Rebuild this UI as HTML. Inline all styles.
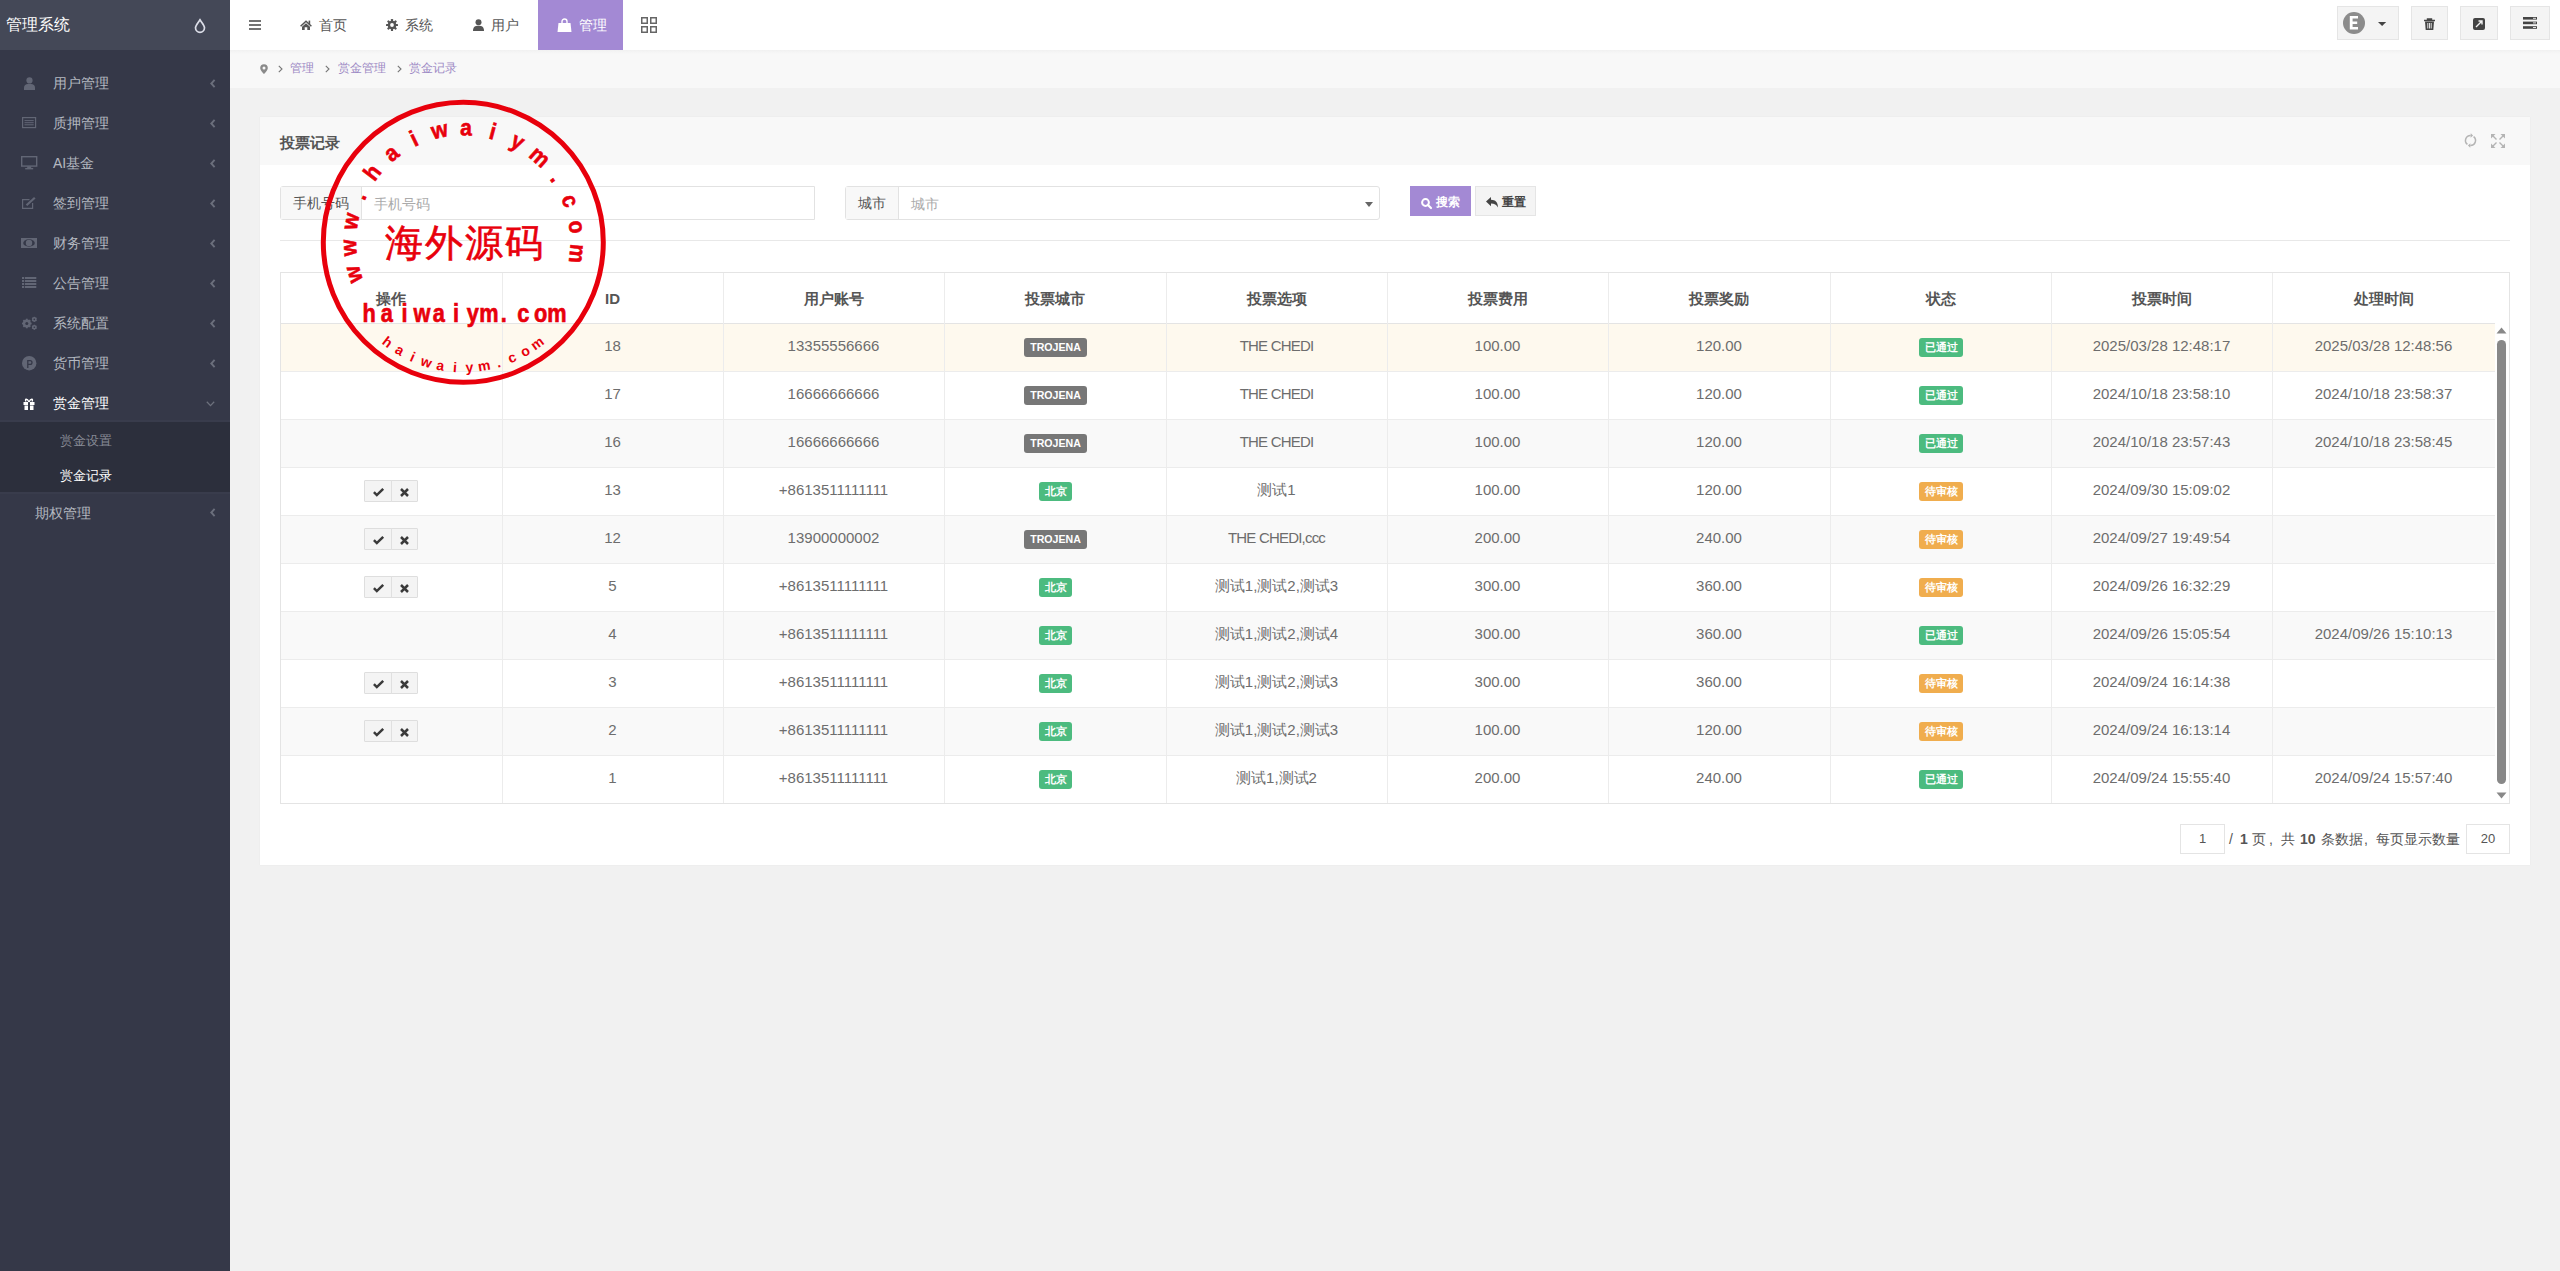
<!DOCTYPE html><html><head><meta charset="utf-8"><style>
*{box-sizing:border-box;margin:0;padding:0}
html,body{width:2560px;height:1271px;overflow:hidden}
body{background:#f1f1f1;font-family:"Liberation Sans",sans-serif;color:#666;position:relative}
.a{position:absolute;white-space:nowrap}
svg{position:absolute;overflow:visible}
</style></head><body>
<div class="a" style="left:0px;top:0px;width:230px;height:1271px;background:#353848;"></div>
<div class="a" style="left:0px;top:0px;width:230px;height:50px;background:#444857;"></div>
<div class="a" style="left:6px;top:15px;font-size:16px;line-height:20px;color:#fff;font-weight:normal;">管理系统</div>
<svg style="left:194px;top:17px" width="12" height="16" viewBox="0 0 12 16"><path d="M6 2.8 C4 6 1.5 8.5 1.5 10.8 A4.5 4.5 0 0 0 10.5 10.8 C10.5 8.5 8 6 6 2.8 Z" fill="none" stroke="#dcdee8" stroke-width="1.7"/></svg>
<svg style="left:23.5px;top:76.5px" width="11" height="13" viewBox="0 0 11 13"><circle cx="5.5" cy="3.4" r="3.1" fill="#626675"/><path d="M0 13 V10.6 C0 8.3 1.8 7 3.8 7 H7.2 C9.2 7 11 8.3 11 10.6 V13 Z" fill="#626675"/></svg>
<div class="a" style="left:53px;top:75px;font-size:14px;line-height:17px;color:#b4b8c0;font-weight:normal;">用户管理</div>
<svg style="left:210px;top:79px" width="6" height="9" viewBox="0 0 6 9"><path d="M4.6 0.9 L1.3 4.5 L4.6 8.1" fill="none" stroke="#6b6f7c" stroke-width="1.9"/></svg>
<svg style="left:21.8px;top:116.6px" width="14.2" height="11.2" viewBox="0 0 14.2 11.2"><rect x="0.6" y="0.6" width="13" height="10" fill="none" stroke="#626675" stroke-width="1.2"/><path d="M2.5 3.6 H11.7 M2.5 5.7 H11.7 M2.5 7.8 H11.7" stroke="#626675" stroke-width="1"/></svg>
<div class="a" style="left:53px;top:115px;font-size:14px;line-height:17px;color:#b4b8c0;font-weight:normal;">质押管理</div>
<svg style="left:210px;top:119px" width="6" height="9" viewBox="0 0 6 9"><path d="M4.6 0.9 L1.3 4.5 L4.6 8.1" fill="none" stroke="#6b6f7c" stroke-width="1.9"/></svg>
<svg style="left:21px;top:155.6px" width="16.4" height="13.4" viewBox="0 0 16.4 13.4"><rect x="0.7" y="0.7" width="15" height="9.4" fill="none" stroke="#626675" stroke-width="1.4"/><rect x="6.2" y="10.4" width="4" height="1.6" fill="#626675"/><rect x="4.2" y="12" width="8" height="1.4" fill="#626675"/></svg>
<div class="a" style="left:53px;top:155px;font-size:14px;line-height:17px;color:#b4b8c0;font-weight:normal;">AI基金</div>
<svg style="left:210px;top:159px" width="6" height="9" viewBox="0 0 6 9"><path d="M4.6 0.9 L1.3 4.5 L4.6 8.1" fill="none" stroke="#6b6f7c" stroke-width="1.9"/></svg>
<svg style="left:21.8px;top:196.5px" width="14" height="12" viewBox="0 0 14 12"><path d="M7.5 2.6 H0.6 V11.4 H10.6 V6" fill="none" stroke="#626675" stroke-width="1.2"/><path d="M4.5 8.2 L12.8 0.8" stroke="#626675" stroke-width="2.2"/></svg>
<div class="a" style="left:53px;top:195px;font-size:14px;line-height:17px;color:#b4b8c0;font-weight:normal;">签到管理</div>
<svg style="left:210px;top:199px" width="6" height="9" viewBox="0 0 6 9"><path d="M4.6 0.9 L1.3 4.5 L4.6 8.1" fill="none" stroke="#6b6f7c" stroke-width="1.9"/></svg>
<svg style="left:21px;top:238px" width="16" height="10" viewBox="0 0 16 10"><rect x="0" y="0" width="16" height="10" fill="#626675"/><ellipse cx="8" cy="5" rx="5.8" ry="3.7" fill="#353848"/><circle cx="8" cy="5" r="3.2" fill="#626675"/></svg>
<div class="a" style="left:53px;top:235px;font-size:14px;line-height:17px;color:#b4b8c0;font-weight:normal;">财务管理</div>
<svg style="left:210px;top:239px" width="6" height="9" viewBox="0 0 6 9"><path d="M4.6 0.9 L1.3 4.5 L4.6 8.1" fill="none" stroke="#6b6f7c" stroke-width="1.9"/></svg>
<svg style="left:21.8px;top:277px" width="14.3" height="11" viewBox="0 0 14.3 11"><rect x="0" y="0" width="2.2" height="2" fill="#626675"/><rect x="3" y="0" width="11.3" height="2" fill="#626675"/><rect x="0" y="3" width="2.2" height="2" fill="#626675"/><rect x="3" y="3" width="11.3" height="2" fill="#626675"/><rect x="0" y="6" width="2.2" height="2" fill="#626675"/><rect x="3" y="6" width="11.3" height="2" fill="#626675"/><rect x="0" y="9" width="2.2" height="2" fill="#626675"/><rect x="3" y="9" width="11.3" height="2" fill="#626675"/></svg>
<div class="a" style="left:53px;top:275px;font-size:14px;line-height:17px;color:#b4b8c0;font-weight:normal;">公告管理</div>
<svg style="left:210px;top:279px" width="6" height="9" viewBox="0 0 6 9"><path d="M4.6 0.9 L1.3 4.5 L4.6 8.1" fill="none" stroke="#6b6f7c" stroke-width="1.9"/></svg>
<svg style="left:20.5px;top:315.5px" width="17" height="14.5" viewBox="0 0 17 14.5"><rect x="4.90" y="2.70" width="1.8" height="2.4" fill="#626675" transform="rotate(0.0 5.8 7.5)"/><rect x="4.90" y="2.70" width="1.8" height="2.4" fill="#626675" transform="rotate(45.0 5.8 7.5)"/><rect x="4.90" y="2.70" width="1.8" height="2.4" fill="#626675" transform="rotate(90.0 5.8 7.5)"/><rect x="4.90" y="2.70" width="1.8" height="2.4" fill="#626675" transform="rotate(135.0 5.8 7.5)"/><rect x="4.90" y="2.70" width="1.8" height="2.4" fill="#626675" transform="rotate(180.0 5.8 7.5)"/><rect x="4.90" y="2.70" width="1.8" height="2.4" fill="#626675" transform="rotate(225.0 5.8 7.5)"/><rect x="4.90" y="2.70" width="1.8" height="2.4" fill="#626675" transform="rotate(270.0 5.8 7.5)"/><rect x="4.90" y="2.70" width="1.8" height="2.4" fill="#626675" transform="rotate(315.0 5.8 7.5)"/><circle cx="5.8" cy="7.5" r="4.0" fill="#626675"/><circle cx="5.8" cy="7.5" r="1.5" fill="#353848"/><rect x="12.70" y="0.80" width="1.2" height="1.9" fill="#626675" transform="rotate(0.0 13.3 3.4)"/><rect x="12.70" y="0.80" width="1.2" height="1.9" fill="#626675" transform="rotate(60.0 13.3 3.4)"/><rect x="12.70" y="0.80" width="1.2" height="1.9" fill="#626675" transform="rotate(120.0 13.3 3.4)"/><rect x="12.70" y="0.80" width="1.2" height="1.9" fill="#626675" transform="rotate(180.0 13.3 3.4)"/><rect x="12.70" y="0.80" width="1.2" height="1.9" fill="#626675" transform="rotate(240.0 13.3 3.4)"/><rect x="12.70" y="0.80" width="1.2" height="1.9" fill="#626675" transform="rotate(300.0 13.3 3.4)"/><circle cx="13.3" cy="3.4" r="2.3" fill="#626675"/><circle cx="13.3" cy="3.4" r="0.8" fill="#353848"/><rect x="12.70" y="8.70" width="1.2" height="1.9" fill="#626675" transform="rotate(0.0 13.3 11.3)"/><rect x="12.70" y="8.70" width="1.2" height="1.9" fill="#626675" transform="rotate(60.0 13.3 11.3)"/><rect x="12.70" y="8.70" width="1.2" height="1.9" fill="#626675" transform="rotate(120.0 13.3 11.3)"/><rect x="12.70" y="8.70" width="1.2" height="1.9" fill="#626675" transform="rotate(180.0 13.3 11.3)"/><rect x="12.70" y="8.70" width="1.2" height="1.9" fill="#626675" transform="rotate(240.0 13.3 11.3)"/><rect x="12.70" y="8.70" width="1.2" height="1.9" fill="#626675" transform="rotate(300.0 13.3 11.3)"/><circle cx="13.3" cy="11.3" r="2.3" fill="#626675"/><circle cx="13.3" cy="11.3" r="0.8" fill="#353848"/></svg>
<div class="a" style="left:53px;top:315px;font-size:14px;line-height:17px;color:#b4b8c0;font-weight:normal;">系统配置</div>
<svg style="left:210px;top:319px" width="6" height="9" viewBox="0 0 6 9"><path d="M4.6 0.9 L1.3 4.5 L4.6 8.1" fill="none" stroke="#6b6f7c" stroke-width="1.9"/></svg>
<svg style="left:21.8px;top:355.7px" width="14.4" height="14.4" viewBox="0 0 14.4 14.4"><circle cx="7.2" cy="7.2" r="7.2" fill="#626675"/><path d="M5.8 12 V4.6 H8.1 A1.9 1.9 0 0 1 8.1 8.4 H5.8" fill="none" stroke="#353848" stroke-width="1.3"/></svg>
<div class="a" style="left:53px;top:355px;font-size:14px;line-height:17px;color:#b4b8c0;font-weight:normal;">货币管理</div>
<svg style="left:210px;top:359px" width="6" height="9" viewBox="0 0 6 9"><path d="M4.6 0.9 L1.3 4.5 L4.6 8.1" fill="none" stroke="#6b6f7c" stroke-width="1.9"/></svg>
<svg style="left:23px;top:398px" width="12" height="12" viewBox="0 0 12 12"><rect x="0.5" y="4" width="11" height="3" fill="#fff"/><rect x="1.5" y="7.5" width="9" height="4.5" fill="#fff"/><rect x="5" y="4" width="2" height="8" fill="#363a49"/><path d="M6 4 C4 0 1.5 1 3 3.5 M6 4 C8 0 10.5 1 9 3.5" fill="none" stroke="#fff" stroke-width="1.4"/></svg>
<div class="a" style="left:53px;top:395px;font-size:14px;line-height:17px;color:#fff;font-weight:normal;">赏金管理</div>
<svg style="left:206px;top:401px" width="9" height="6" viewBox="0 0 9 6"><path d="M0.8 0.8 L4.5 4.6 L8.2 0.8" fill="none" stroke="#6d717d" stroke-width="1.3"/></svg>
<div class="a" style="left:0px;top:420px;width:230px;height:2px;background:#393c4c;"></div>
<div class="a" style="left:0px;top:422px;width:230px;height:70px;background:#2c2f3c;"></div>
<div class="a" style="left:0px;top:492px;width:230px;height:2px;background:#393c4c;"></div>
<div class="a" style="left:60px;top:432px;font-size:13px;line-height:17px;color:#878a95;font-weight:normal;">赏金设置</div>
<div class="a" style="left:60px;top:467px;font-size:13px;line-height:17px;color:#fff;font-weight:normal;">赏金记录</div>
<div class="a" style="left:35px;top:505px;font-size:14px;line-height:17px;color:#b4b8c0;font-weight:normal;">期权管理</div>
<svg style="left:209.5px;top:508px" width="6" height="9" viewBox="0 0 6 9"><path d="M4.6 0.9 L1.3 4.5 L4.6 8.1" fill="none" stroke="#6b6f7c" stroke-width="1.9"/></svg>
<div class="a" style="left:230px;top:0px;width:2330px;height:50px;background:#fff;"></div>
<svg style="left:249px;top:20px" width="12" height="10" viewBox="0 0 12 10"><path d="M0 1h12M0 5h12M0 9h12" stroke="#444" stroke-width="1.6"/></svg>
<svg style="left:299.5px;top:20px" width="12" height="10" viewBox="0 0 12 10"><path d="M0.6 6.2 L6 1.2 L11.4 6.2" fill="none" stroke="#555" stroke-width="1.5"/><rect x="8.6" y="0.6" width="1.6" height="3.6" fill="#555"/><path d="M2 6.8 L6 3.2 L10 6.8 V10 H7.3 V7.3 H4.7 V10 H2 Z" fill="#555"/></svg>
<div class="a" style="left:319px;top:17px;font-size:14px;line-height:17px;color:#555;font-weight:normal;">首页</div>
<svg style="left:386px;top:19px" width="12" height="12" viewBox="0 0 12 12"><rect x="4.9" y="0" width="2.2" height="3" rx="0.6" fill="#555" transform="rotate(0 6 6)"/><rect x="4.9" y="0" width="2.2" height="3" rx="0.6" fill="#555" transform="rotate(45 6 6)"/><rect x="4.9" y="0" width="2.2" height="3" rx="0.6" fill="#555" transform="rotate(90 6 6)"/><rect x="4.9" y="0" width="2.2" height="3" rx="0.6" fill="#555" transform="rotate(135 6 6)"/><rect x="4.9" y="0" width="2.2" height="3" rx="0.6" fill="#555" transform="rotate(180 6 6)"/><rect x="4.9" y="0" width="2.2" height="3" rx="0.6" fill="#555" transform="rotate(225 6 6)"/><rect x="4.9" y="0" width="2.2" height="3" rx="0.6" fill="#555" transform="rotate(270 6 6)"/><rect x="4.9" y="0" width="2.2" height="3" rx="0.6" fill="#555" transform="rotate(315 6 6)"/><circle cx="6" cy="6" r="4.3" fill="#555"/><circle cx="6" cy="6" r="1.9" fill="#fff"/></svg>
<div class="a" style="left:405px;top:17px;font-size:14px;line-height:17px;color:#555;font-weight:normal;">系统</div>
<svg style="left:473px;top:19px" width="11" height="12" viewBox="0 0 11 12"><circle cx="5.5" cy="3.2" r="3" fill="#555"/><path d="M0 12 C0 8 2 6.8 5.5 6.8 C9 6.8 11 8 11 12 Z" fill="#555"/></svg>
<div class="a" style="left:491px;top:17px;font-size:14px;line-height:17px;color:#555;font-weight:normal;">用户</div>
<div class="a" style="left:538px;top:0px;width:85px;height:50px;background:#a389d4;"></div>
<svg style="left:557px;top:18px" width="15" height="14" viewBox="0 0 15 14"><path d="M5 5 V3.5 A2.5 2.5 0 0 1 10 3.5 V5" fill="none" stroke="#fff" stroke-width="1.4"/><path d="M1.5 5 H13.5 L14.5 14 H0.5 Z" fill="#fff"/></svg>
<div class="a" style="left:579px;top:17px;font-size:14px;line-height:17px;color:#fff;font-weight:normal;">管理</div>
<svg style="left:641px;top:17px" width="16" height="16" viewBox="0 0 16 16"><rect x="0.75" y="0.75" width="5.5" height="5.5" fill="none" stroke="#666" stroke-width="1.5"/><rect x="9.75" y="0.75" width="5.5" height="5.5" fill="none" stroke="#666" stroke-width="1.5"/><rect x="0.75" y="9.75" width="5.5" height="5.5" fill="none" stroke="#666" stroke-width="1.5"/><rect x="9.75" y="9.75" width="5.5" height="5.5" fill="none" stroke="#666" stroke-width="1.5"/></svg>
<div class="a" style="left:2337px;top:6px;width:62px;height:34px;background:#f4f4f4;border:1px solid #e5e5e5;"></div>
<svg style="left:2343px;top:12px" width="24" height="24" viewBox="0 0 24 24"><circle cx="11" cy="11" r="11" fill="#8c8c8c"/><path d="M6.8 3.9 H15 V6.4 H9.6 V9.5 H14.2 V12 H9.6 V14.9 H15 V17.4 H6.8 Z" fill="#fff"/></svg>
<svg style="left:2377.8px;top:22px" width="8.2" height="4" viewBox="0 0 8.2 4"><path d="M0 0 H8.2 L4.1 4 Z" fill="#444"/></svg>
<div class="a" style="left:2411px;top:6px;width:37px;height:34px;background:#f4f4f4;border:1px solid #e5e5e5;"></div>
<svg style="left:2424px;top:18px" width="11" height="12" viewBox="0 0 11 12"><path d="M0 2.5 H11 M3.5 2.5 V1 H7.5 V2.5" fill="none" stroke="#444" stroke-width="1.4"/><path d="M1 3.5 H10 L9.3 12 H1.7 Z" fill="#444"/><path d="M3.8 5 V10.5 M5.5 5 V10.5 M7.2 5 V10.5" stroke="#f4f4f4" stroke-width="0.9"/></svg>
<div class="a" style="left:2460px;top:6px;width:38px;height:34px;background:#f4f4f4;border:1px solid #e5e5e5;"></div>
<svg style="left:2473px;top:18px" width="12" height="12" viewBox="0 0 12 12"><rect x="0" y="0" width="12" height="12" rx="2" fill="#444"/><path d="M3 9 L9 3 M5.5 3 H9 V6.5" fill="none" stroke="#f4f4f4" stroke-width="1.4"/></svg>
<div class="a" style="left:2510px;top:6px;width:40px;height:34px;background:#f4f4f4;border:1px solid #e5e5e5;"></div>
<svg style="left:2523px;top:17px" width="14" height="12" viewBox="0 0 14 12"><rect x="0" y="0" width="14" height="2.6" fill="#444"/><rect x="0" y="4.6" width="14" height="2.6" fill="#444"/><rect x="0" y="9.2" width="14" height="2.6" fill="#444"/><path d="M10 1.3 H13 M10 5.9 H13 M10 10.5 H13" stroke="#f4f4f4" stroke-width="0.9"/></svg>
<div class="a" style="left:230px;top:50px;width:2330px;height:38px;background:#f8f8f8;"></div>
<div class="a" style="left:230px;top:50px;width:2330px;height:4px;background:linear-gradient(#f1f1f1,#f8f8f8);"></div>
<svg style="left:260px;top:64px" width="8" height="10" viewBox="0 0 8 10"><path d="M4 0.2 A3.8 3.8 0 0 1 7.8 4 C7.8 6.5 4 10 4 10 C4 10 0.2 6.5 0.2 4 A3.8 3.8 0 0 1 4 0.2 Z" fill="#8a8a8a"/><circle cx="4" cy="3.9" r="1.5" fill="#f8f8f8"/></svg>
<svg style="left:278px;top:65px" width="5" height="8" viewBox="0 0 5 8"><path d="M0.8 0.8 L4 4 L0.8 7.2" fill="none" stroke="#777" stroke-width="1.1"/></svg>
<div class="a" style="left:290px;top:61px;font-size:12px;line-height:15px;color:#9c88c4;font-weight:normal;">管理</div>
<svg style="left:325px;top:65px" width="5" height="8" viewBox="0 0 5 8"><path d="M0.8 0.8 L4 4 L0.8 7.2" fill="none" stroke="#777" stroke-width="1.1"/></svg>
<div class="a" style="left:338px;top:61px;font-size:12px;line-height:15px;color:#9c88c4;font-weight:normal;">赏金管理</div>
<svg style="left:397px;top:65px" width="5" height="8" viewBox="0 0 5 8"><path d="M0.8 0.8 L4 4 L0.8 7.2" fill="none" stroke="#777" stroke-width="1.1"/></svg>
<div class="a" style="left:409px;top:61px;font-size:12px;line-height:15px;color:#9c88c4;font-weight:normal;">赏金记录</div>
<div class="a" style="left:260px;top:117px;width:2270px;height:748px;background:#fff;box-shadow:0 0 1px rgba(0,0,0,0.08);"></div>
<div class="a" style="left:260px;top:117px;width:2270px;height:48px;background:#f8f8f8;"></div>
<div class="a" style="left:280px;top:134px;font-size:15px;line-height:18px;color:#555;font-weight:bold;">投票记录</div>
<svg style="left:2463.5px;top:134px" width="13" height="13" viewBox="0 0 13 13"><path d="M3.42 10.44 A5.0 5.0 0 0 1 6.67 1.50 M9.58 2.56 A5.0 5.0 0 0 1 6.33 11.50" fill="none" stroke="#b4b4b4" stroke-width="1.5"/><path d="M9.07 1.59 L6.60 3.70 L6.75 -0.70 Z M3.93 11.41 L6.40 9.30 L6.25 13.70 Z" fill="#b4b4b4"/></svg>
<svg style="left:2491px;top:134px" width="14" height="14" viewBox="0 0 14 14"><path d="M1.5 1.5 L5.5 5.5 M12.5 1.5 L8.5 5.5 M1.5 12.5 L5.5 8.5 M12.5 12.5 L8.5 8.5" stroke="#b4b4b4" stroke-width="1.4"/><path d="M0 0 H4.5 L0 4.5 Z M14 0 H9.5 L14 4.5 Z M0 14 H4.5 L0 9.5 Z M14 14 H9.5 L14 9.5 Z" fill="#b4b4b4"/></svg>
<div class="a" style="left:280px;top:186px;width:535px;height:34px;background:#fff;border:1px solid #e2e2e2;border-radius:3px 0 0 3px;"></div>
<div class="a" style="left:281px;top:187px;width:81px;height:32px;background:#f8f8f8;border-right:1px solid #e2e2e2;"></div>
<div class="a" style="left:293px;top:195px;font-size:14px;line-height:17px;color:#555;font-weight:normal;">手机号码</div>
<div class="a" style="left:374px;top:196px;font-size:14px;line-height:17px;color:#aaa;font-weight:normal;">手机号码</div>
<div class="a" style="left:845px;top:186px;width:535px;height:34px;background:#fff;border:1px solid #e2e2e2;border-radius:3px;"></div>
<div class="a" style="left:846px;top:187px;width:53px;height:32px;background:#f8f8f8;border-right:1px solid #e2e2e2;"></div>
<div class="a" style="left:858px;top:195px;font-size:14px;line-height:17px;color:#555;font-weight:normal;">城市</div>
<div class="a" style="left:911px;top:196px;font-size:14px;line-height:17px;color:#aaa;font-weight:normal;">城市</div>
<svg style="left:1365px;top:202px" width="8" height="5" viewBox="0 0 8 5"><path d="M0 0 H8 L4 5 Z" fill="#666"/></svg>
<div class="a" style="left:1410px;top:186px;width:61px;height:30px;background:#a389d4;"></div>
<svg style="left:1421px;top:197.5px" width="11" height="10.5" viewBox="0 0 11 10.5"><circle cx="4.5" cy="4.5" r="3.4" fill="none" stroke="#fff" stroke-width="2"/><path d="M7 7 L10 10" stroke="#fff" stroke-width="2.2" stroke-linecap="round"/></svg>
<div class="a" style="left:1436px;top:194.5px;font-size:12px;line-height:15px;color:#fff;font-weight:bold;">搜索</div>
<div class="a" style="left:1475px;top:186px;width:61px;height:30px;background:#f4f4f4;border:1px solid #e5e5e5;"></div>
<svg style="left:1486px;top:196.5px" width="12" height="10.5" viewBox="0 0 12 10.5"><path d="M0 4.5 L5 0 V2.8 C9.5 2.8 12 5.5 12 10.5 C10.5 7.8 8.5 6.6 5 6.6 V9.2 Z" fill="#444"/></svg>
<div class="a" style="left:1502px;top:194.5px;font-size:12px;line-height:15px;color:#444;font-weight:bold;">重置</div>
<div class="a" style="left:280px;top:240px;width:2230px;height:1px;background:#e8e8e8;"></div>
<div class="a" style="left:280px;top:272px;width:2230px;height:532px;background:#fff;border:1px solid #e4e4e4;"></div>
<div class="a" style="left:280px;top:290px;width:222px;text-align:center;font-size:15px;line-height:18px;color:#555;font-weight:bold">操作</div>
<div class="a" style="left:502px;top:290px;width:221px;text-align:center;font-size:15px;line-height:18px;color:#555;font-weight:bold">ID</div>
<div class="a" style="left:723px;top:290px;width:221px;text-align:center;font-size:15px;line-height:18px;color:#555;font-weight:bold">用户账号</div>
<div class="a" style="left:944px;top:290px;width:222px;text-align:center;font-size:15px;line-height:18px;color:#555;font-weight:bold">投票城市</div>
<div class="a" style="left:1166px;top:290px;width:221px;text-align:center;font-size:15px;line-height:18px;color:#555;font-weight:bold">投票选项</div>
<div class="a" style="left:1387px;top:290px;width:221px;text-align:center;font-size:15px;line-height:18px;color:#555;font-weight:bold">投票费用</div>
<div class="a" style="left:1608px;top:290px;width:222px;text-align:center;font-size:15px;line-height:18px;color:#555;font-weight:bold">投票奖励</div>
<div class="a" style="left:1830px;top:290px;width:221px;text-align:center;font-size:15px;line-height:18px;color:#555;font-weight:bold">状态</div>
<div class="a" style="left:2051px;top:290px;width:221px;text-align:center;font-size:15px;line-height:18px;color:#555;font-weight:bold">投票时间</div>
<div class="a" style="left:2272px;top:290px;width:223px;text-align:center;font-size:15px;line-height:18px;color:#555;font-weight:bold">处理时间</div>
<div class="a" style="left:280px;top:323px;width:2230px;height:1px;background:#e4e4e4;"></div>
<div class="a" style="left:281px;top:324px;width:2214px;height:47px;background:#fef9ee;"></div>
<div class="a" style="left:281px;top:371px;width:2214px;height:1px;background:#ececec;"></div>
<div class="a" style="left:502px;top:337px;width:221px;text-align:center;font-size:15px;line-height:18px;color:#6d6d6d;">18</div>
<div class="a" style="left:723px;top:337px;width:221px;text-align:center;font-size:15px;line-height:18px;color:#6d6d6d;">13355556666</div>
<div class="a" style="left:1024px;top:338px;width:63px;height:19px;background:#777;border-radius:3px;"></div>
<div class="a" style="left:1024px;top:340px;font-size:10.6px;line-height:15px;color:#fff;font-weight:bold;width:63px;text-align:center;">TROJENA</div>
<div class="a" style="left:1166px;top:337px;width:221px;text-align:center;font-size:15px;line-height:18px;color:#6d6d6d;letter-spacing:-0.8px;">THE CHEDI</div>
<div class="a" style="left:1387px;top:337px;width:221px;text-align:center;font-size:15px;line-height:18px;color:#6d6d6d;">100.00</div>
<div class="a" style="left:1608px;top:337px;width:222px;text-align:center;font-size:15px;line-height:18px;color:#6d6d6d;">120.00</div>
<div class="a" style="left:1919px;top:338px;width:44px;height:19px;background:#4cbb7f;border-radius:3px;"></div>
<div class="a" style="left:1919px;top:340px;font-size:11px;line-height:15px;color:#fff;font-weight:bold;width:44px;text-align:center;">已通过</div>
<div class="a" style="left:2051px;top:337px;width:221px;text-align:center;font-size:15px;line-height:18px;color:#6d6d6d;">2025/03/28 12:48:17</div>
<div class="a" style="left:2272px;top:337px;width:223px;text-align:center;font-size:15px;line-height:18px;color:#6d6d6d;">2025/03/28 12:48:56</div>
<div class="a" style="left:281px;top:372px;width:2214px;height:47px;background:#fff;"></div>
<div class="a" style="left:281px;top:419px;width:2214px;height:1px;background:#ececec;"></div>
<div class="a" style="left:502px;top:385px;width:221px;text-align:center;font-size:15px;line-height:18px;color:#6d6d6d;">17</div>
<div class="a" style="left:723px;top:385px;width:221px;text-align:center;font-size:15px;line-height:18px;color:#6d6d6d;">16666666666</div>
<div class="a" style="left:1024px;top:386px;width:63px;height:19px;background:#777;border-radius:3px;"></div>
<div class="a" style="left:1024px;top:388px;font-size:10.6px;line-height:15px;color:#fff;font-weight:bold;width:63px;text-align:center;">TROJENA</div>
<div class="a" style="left:1166px;top:385px;width:221px;text-align:center;font-size:15px;line-height:18px;color:#6d6d6d;letter-spacing:-0.8px;">THE CHEDI</div>
<div class="a" style="left:1387px;top:385px;width:221px;text-align:center;font-size:15px;line-height:18px;color:#6d6d6d;">100.00</div>
<div class="a" style="left:1608px;top:385px;width:222px;text-align:center;font-size:15px;line-height:18px;color:#6d6d6d;">120.00</div>
<div class="a" style="left:1919px;top:386px;width:44px;height:19px;background:#4cbb7f;border-radius:3px;"></div>
<div class="a" style="left:1919px;top:388px;font-size:11px;line-height:15px;color:#fff;font-weight:bold;width:44px;text-align:center;">已通过</div>
<div class="a" style="left:2051px;top:385px;width:221px;text-align:center;font-size:15px;line-height:18px;color:#6d6d6d;">2024/10/18 23:58:10</div>
<div class="a" style="left:2272px;top:385px;width:223px;text-align:center;font-size:15px;line-height:18px;color:#6d6d6d;">2024/10/18 23:58:37</div>
<div class="a" style="left:281px;top:420px;width:2214px;height:47px;background:#f9f9f9;"></div>
<div class="a" style="left:281px;top:467px;width:2214px;height:1px;background:#ececec;"></div>
<div class="a" style="left:502px;top:433px;width:221px;text-align:center;font-size:15px;line-height:18px;color:#6d6d6d;">16</div>
<div class="a" style="left:723px;top:433px;width:221px;text-align:center;font-size:15px;line-height:18px;color:#6d6d6d;">16666666666</div>
<div class="a" style="left:1024px;top:434px;width:63px;height:19px;background:#777;border-radius:3px;"></div>
<div class="a" style="left:1024px;top:436px;font-size:10.6px;line-height:15px;color:#fff;font-weight:bold;width:63px;text-align:center;">TROJENA</div>
<div class="a" style="left:1166px;top:433px;width:221px;text-align:center;font-size:15px;line-height:18px;color:#6d6d6d;letter-spacing:-0.8px;">THE CHEDI</div>
<div class="a" style="left:1387px;top:433px;width:221px;text-align:center;font-size:15px;line-height:18px;color:#6d6d6d;">100.00</div>
<div class="a" style="left:1608px;top:433px;width:222px;text-align:center;font-size:15px;line-height:18px;color:#6d6d6d;">120.00</div>
<div class="a" style="left:1919px;top:434px;width:44px;height:19px;background:#4cbb7f;border-radius:3px;"></div>
<div class="a" style="left:1919px;top:436px;font-size:11px;line-height:15px;color:#fff;font-weight:bold;width:44px;text-align:center;">已通过</div>
<div class="a" style="left:2051px;top:433px;width:221px;text-align:center;font-size:15px;line-height:18px;color:#6d6d6d;">2024/10/18 23:57:43</div>
<div class="a" style="left:2272px;top:433px;width:223px;text-align:center;font-size:15px;line-height:18px;color:#6d6d6d;">2024/10/18 23:58:45</div>
<div class="a" style="left:281px;top:468px;width:2214px;height:47px;background:#fff;"></div>
<div class="a" style="left:281px;top:515px;width:2214px;height:1px;background:#ececec;"></div>
<div class="a" style="left:364px;top:480px;width:54px;height:22px;background:#f4f4f4;border:1px solid #dedede;border-radius:1px;"></div>
<div class="a" style="left:391px;top:480px;width:1px;height:22px;background:#e0e0e0;"></div>
<svg style="left:373px;top:487.5px" width="11" height="9" viewBox="0 0 11 9"><path d="M0.9 4.2 L3.8 7.1 L10.2 0.8" fill="none" stroke="#3a3a3a" stroke-width="2.5"/></svg>
<svg style="left:400px;top:487.5px" width="9" height="9" viewBox="0 0 9 9"><path d="M1 1 L8 8 M8 1 L1 8" stroke="#3a3a3a" stroke-width="2.5"/></svg>
<div class="a" style="left:502px;top:481px;width:221px;text-align:center;font-size:15px;line-height:18px;color:#6d6d6d;">13</div>
<div class="a" style="left:723px;top:481px;width:221px;text-align:center;font-size:15px;line-height:18px;color:#6d6d6d;">+8613511111111</div>
<div class="a" style="left:1039px;top:482px;width:33px;height:19px;background:#4cbb7f;border-radius:3px;"></div>
<div class="a" style="left:1039px;top:484px;font-size:11px;line-height:15px;color:#fff;font-weight:bold;width:33px;text-align:center;">北京</div>
<div class="a" style="left:1166px;top:481px;width:221px;text-align:center;font-size:15px;line-height:18px;color:#6d6d6d;">测试1</div>
<div class="a" style="left:1387px;top:481px;width:221px;text-align:center;font-size:15px;line-height:18px;color:#6d6d6d;">100.00</div>
<div class="a" style="left:1608px;top:481px;width:222px;text-align:center;font-size:15px;line-height:18px;color:#6d6d6d;">120.00</div>
<div class="a" style="left:1919px;top:482px;width:44px;height:19px;background:#f0ad4e;border-radius:3px;"></div>
<div class="a" style="left:1919px;top:484px;font-size:11px;line-height:15px;color:#fff;font-weight:bold;width:44px;text-align:center;">待审核</div>
<div class="a" style="left:2051px;top:481px;width:221px;text-align:center;font-size:15px;line-height:18px;color:#6d6d6d;">2024/09/30 15:09:02</div>
<div class="a" style="left:281px;top:516px;width:2214px;height:47px;background:#f9f9f9;"></div>
<div class="a" style="left:281px;top:563px;width:2214px;height:1px;background:#ececec;"></div>
<div class="a" style="left:364px;top:528px;width:54px;height:22px;background:#f4f4f4;border:1px solid #dedede;border-radius:1px;"></div>
<div class="a" style="left:391px;top:528px;width:1px;height:22px;background:#e0e0e0;"></div>
<svg style="left:373px;top:535.5px" width="11" height="9" viewBox="0 0 11 9"><path d="M0.9 4.2 L3.8 7.1 L10.2 0.8" fill="none" stroke="#3a3a3a" stroke-width="2.5"/></svg>
<svg style="left:400px;top:535.5px" width="9" height="9" viewBox="0 0 9 9"><path d="M1 1 L8 8 M8 1 L1 8" stroke="#3a3a3a" stroke-width="2.5"/></svg>
<div class="a" style="left:502px;top:529px;width:221px;text-align:center;font-size:15px;line-height:18px;color:#6d6d6d;">12</div>
<div class="a" style="left:723px;top:529px;width:221px;text-align:center;font-size:15px;line-height:18px;color:#6d6d6d;">13900000002</div>
<div class="a" style="left:1024px;top:530px;width:63px;height:19px;background:#777;border-radius:3px;"></div>
<div class="a" style="left:1024px;top:532px;font-size:10.6px;line-height:15px;color:#fff;font-weight:bold;width:63px;text-align:center;">TROJENA</div>
<div class="a" style="left:1166px;top:529px;width:221px;text-align:center;font-size:15px;line-height:18px;color:#6d6d6d;letter-spacing:-0.8px;">THE CHEDI,ccc</div>
<div class="a" style="left:1387px;top:529px;width:221px;text-align:center;font-size:15px;line-height:18px;color:#6d6d6d;">200.00</div>
<div class="a" style="left:1608px;top:529px;width:222px;text-align:center;font-size:15px;line-height:18px;color:#6d6d6d;">240.00</div>
<div class="a" style="left:1919px;top:530px;width:44px;height:19px;background:#f0ad4e;border-radius:3px;"></div>
<div class="a" style="left:1919px;top:532px;font-size:11px;line-height:15px;color:#fff;font-weight:bold;width:44px;text-align:center;">待审核</div>
<div class="a" style="left:2051px;top:529px;width:221px;text-align:center;font-size:15px;line-height:18px;color:#6d6d6d;">2024/09/27 19:49:54</div>
<div class="a" style="left:281px;top:564px;width:2214px;height:47px;background:#fff;"></div>
<div class="a" style="left:281px;top:611px;width:2214px;height:1px;background:#ececec;"></div>
<div class="a" style="left:364px;top:576px;width:54px;height:22px;background:#f4f4f4;border:1px solid #dedede;border-radius:1px;"></div>
<div class="a" style="left:391px;top:576px;width:1px;height:22px;background:#e0e0e0;"></div>
<svg style="left:373px;top:583.5px" width="11" height="9" viewBox="0 0 11 9"><path d="M0.9 4.2 L3.8 7.1 L10.2 0.8" fill="none" stroke="#3a3a3a" stroke-width="2.5"/></svg>
<svg style="left:400px;top:583.5px" width="9" height="9" viewBox="0 0 9 9"><path d="M1 1 L8 8 M8 1 L1 8" stroke="#3a3a3a" stroke-width="2.5"/></svg>
<div class="a" style="left:502px;top:577px;width:221px;text-align:center;font-size:15px;line-height:18px;color:#6d6d6d;">5</div>
<div class="a" style="left:723px;top:577px;width:221px;text-align:center;font-size:15px;line-height:18px;color:#6d6d6d;">+8613511111111</div>
<div class="a" style="left:1039px;top:578px;width:33px;height:19px;background:#4cbb7f;border-radius:3px;"></div>
<div class="a" style="left:1039px;top:580px;font-size:11px;line-height:15px;color:#fff;font-weight:bold;width:33px;text-align:center;">北京</div>
<div class="a" style="left:1166px;top:577px;width:221px;text-align:center;font-size:15px;line-height:18px;color:#6d6d6d;">测试1,测试2,测试3</div>
<div class="a" style="left:1387px;top:577px;width:221px;text-align:center;font-size:15px;line-height:18px;color:#6d6d6d;">300.00</div>
<div class="a" style="left:1608px;top:577px;width:222px;text-align:center;font-size:15px;line-height:18px;color:#6d6d6d;">360.00</div>
<div class="a" style="left:1919px;top:578px;width:44px;height:19px;background:#f0ad4e;border-radius:3px;"></div>
<div class="a" style="left:1919px;top:580px;font-size:11px;line-height:15px;color:#fff;font-weight:bold;width:44px;text-align:center;">待审核</div>
<div class="a" style="left:2051px;top:577px;width:221px;text-align:center;font-size:15px;line-height:18px;color:#6d6d6d;">2024/09/26 16:32:29</div>
<div class="a" style="left:281px;top:612px;width:2214px;height:47px;background:#f9f9f9;"></div>
<div class="a" style="left:281px;top:659px;width:2214px;height:1px;background:#ececec;"></div>
<div class="a" style="left:502px;top:625px;width:221px;text-align:center;font-size:15px;line-height:18px;color:#6d6d6d;">4</div>
<div class="a" style="left:723px;top:625px;width:221px;text-align:center;font-size:15px;line-height:18px;color:#6d6d6d;">+8613511111111</div>
<div class="a" style="left:1039px;top:626px;width:33px;height:19px;background:#4cbb7f;border-radius:3px;"></div>
<div class="a" style="left:1039px;top:628px;font-size:11px;line-height:15px;color:#fff;font-weight:bold;width:33px;text-align:center;">北京</div>
<div class="a" style="left:1166px;top:625px;width:221px;text-align:center;font-size:15px;line-height:18px;color:#6d6d6d;">测试1,测试2,测试4</div>
<div class="a" style="left:1387px;top:625px;width:221px;text-align:center;font-size:15px;line-height:18px;color:#6d6d6d;">300.00</div>
<div class="a" style="left:1608px;top:625px;width:222px;text-align:center;font-size:15px;line-height:18px;color:#6d6d6d;">360.00</div>
<div class="a" style="left:1919px;top:626px;width:44px;height:19px;background:#4cbb7f;border-radius:3px;"></div>
<div class="a" style="left:1919px;top:628px;font-size:11px;line-height:15px;color:#fff;font-weight:bold;width:44px;text-align:center;">已通过</div>
<div class="a" style="left:2051px;top:625px;width:221px;text-align:center;font-size:15px;line-height:18px;color:#6d6d6d;">2024/09/26 15:05:54</div>
<div class="a" style="left:2272px;top:625px;width:223px;text-align:center;font-size:15px;line-height:18px;color:#6d6d6d;">2024/09/26 15:10:13</div>
<div class="a" style="left:281px;top:660px;width:2214px;height:47px;background:#fff;"></div>
<div class="a" style="left:281px;top:707px;width:2214px;height:1px;background:#ececec;"></div>
<div class="a" style="left:364px;top:672px;width:54px;height:22px;background:#f4f4f4;border:1px solid #dedede;border-radius:1px;"></div>
<div class="a" style="left:391px;top:672px;width:1px;height:22px;background:#e0e0e0;"></div>
<svg style="left:373px;top:679.5px" width="11" height="9" viewBox="0 0 11 9"><path d="M0.9 4.2 L3.8 7.1 L10.2 0.8" fill="none" stroke="#3a3a3a" stroke-width="2.5"/></svg>
<svg style="left:400px;top:679.5px" width="9" height="9" viewBox="0 0 9 9"><path d="M1 1 L8 8 M8 1 L1 8" stroke="#3a3a3a" stroke-width="2.5"/></svg>
<div class="a" style="left:502px;top:673px;width:221px;text-align:center;font-size:15px;line-height:18px;color:#6d6d6d;">3</div>
<div class="a" style="left:723px;top:673px;width:221px;text-align:center;font-size:15px;line-height:18px;color:#6d6d6d;">+8613511111111</div>
<div class="a" style="left:1039px;top:674px;width:33px;height:19px;background:#4cbb7f;border-radius:3px;"></div>
<div class="a" style="left:1039px;top:676px;font-size:11px;line-height:15px;color:#fff;font-weight:bold;width:33px;text-align:center;">北京</div>
<div class="a" style="left:1166px;top:673px;width:221px;text-align:center;font-size:15px;line-height:18px;color:#6d6d6d;">测试1,测试2,测试3</div>
<div class="a" style="left:1387px;top:673px;width:221px;text-align:center;font-size:15px;line-height:18px;color:#6d6d6d;">300.00</div>
<div class="a" style="left:1608px;top:673px;width:222px;text-align:center;font-size:15px;line-height:18px;color:#6d6d6d;">360.00</div>
<div class="a" style="left:1919px;top:674px;width:44px;height:19px;background:#f0ad4e;border-radius:3px;"></div>
<div class="a" style="left:1919px;top:676px;font-size:11px;line-height:15px;color:#fff;font-weight:bold;width:44px;text-align:center;">待审核</div>
<div class="a" style="left:2051px;top:673px;width:221px;text-align:center;font-size:15px;line-height:18px;color:#6d6d6d;">2024/09/24 16:14:38</div>
<div class="a" style="left:281px;top:708px;width:2214px;height:47px;background:#f9f9f9;"></div>
<div class="a" style="left:281px;top:755px;width:2214px;height:1px;background:#ececec;"></div>
<div class="a" style="left:364px;top:720px;width:54px;height:22px;background:#f4f4f4;border:1px solid #dedede;border-radius:1px;"></div>
<div class="a" style="left:391px;top:720px;width:1px;height:22px;background:#e0e0e0;"></div>
<svg style="left:373px;top:727.5px" width="11" height="9" viewBox="0 0 11 9"><path d="M0.9 4.2 L3.8 7.1 L10.2 0.8" fill="none" stroke="#3a3a3a" stroke-width="2.5"/></svg>
<svg style="left:400px;top:727.5px" width="9" height="9" viewBox="0 0 9 9"><path d="M1 1 L8 8 M8 1 L1 8" stroke="#3a3a3a" stroke-width="2.5"/></svg>
<div class="a" style="left:502px;top:721px;width:221px;text-align:center;font-size:15px;line-height:18px;color:#6d6d6d;">2</div>
<div class="a" style="left:723px;top:721px;width:221px;text-align:center;font-size:15px;line-height:18px;color:#6d6d6d;">+8613511111111</div>
<div class="a" style="left:1039px;top:722px;width:33px;height:19px;background:#4cbb7f;border-radius:3px;"></div>
<div class="a" style="left:1039px;top:724px;font-size:11px;line-height:15px;color:#fff;font-weight:bold;width:33px;text-align:center;">北京</div>
<div class="a" style="left:1166px;top:721px;width:221px;text-align:center;font-size:15px;line-height:18px;color:#6d6d6d;">测试1,测试2,测试3</div>
<div class="a" style="left:1387px;top:721px;width:221px;text-align:center;font-size:15px;line-height:18px;color:#6d6d6d;">100.00</div>
<div class="a" style="left:1608px;top:721px;width:222px;text-align:center;font-size:15px;line-height:18px;color:#6d6d6d;">120.00</div>
<div class="a" style="left:1919px;top:722px;width:44px;height:19px;background:#f0ad4e;border-radius:3px;"></div>
<div class="a" style="left:1919px;top:724px;font-size:11px;line-height:15px;color:#fff;font-weight:bold;width:44px;text-align:center;">待审核</div>
<div class="a" style="left:2051px;top:721px;width:221px;text-align:center;font-size:15px;line-height:18px;color:#6d6d6d;">2024/09/24 16:13:14</div>
<div class="a" style="left:281px;top:756px;width:2214px;height:47px;background:#fff;"></div>
<div class="a" style="left:502px;top:769px;width:221px;text-align:center;font-size:15px;line-height:18px;color:#6d6d6d;">1</div>
<div class="a" style="left:723px;top:769px;width:221px;text-align:center;font-size:15px;line-height:18px;color:#6d6d6d;">+8613511111111</div>
<div class="a" style="left:1039px;top:770px;width:33px;height:19px;background:#4cbb7f;border-radius:3px;"></div>
<div class="a" style="left:1039px;top:772px;font-size:11px;line-height:15px;color:#fff;font-weight:bold;width:33px;text-align:center;">北京</div>
<div class="a" style="left:1166px;top:769px;width:221px;text-align:center;font-size:15px;line-height:18px;color:#6d6d6d;">测试1,测试2</div>
<div class="a" style="left:1387px;top:769px;width:221px;text-align:center;font-size:15px;line-height:18px;color:#6d6d6d;">200.00</div>
<div class="a" style="left:1608px;top:769px;width:222px;text-align:center;font-size:15px;line-height:18px;color:#6d6d6d;">240.00</div>
<div class="a" style="left:1919px;top:770px;width:44px;height:19px;background:#4cbb7f;border-radius:3px;"></div>
<div class="a" style="left:1919px;top:772px;font-size:11px;line-height:15px;color:#fff;font-weight:bold;width:44px;text-align:center;">已通过</div>
<div class="a" style="left:2051px;top:769px;width:221px;text-align:center;font-size:15px;line-height:18px;color:#6d6d6d;">2024/09/24 15:55:40</div>
<div class="a" style="left:2272px;top:769px;width:223px;text-align:center;font-size:15px;line-height:18px;color:#6d6d6d;">2024/09/24 15:57:40</div>
<div class="a" style="left:502px;top:273px;width:1px;height:530px;background:#ececec;"></div>
<div class="a" style="left:723px;top:273px;width:1px;height:530px;background:#ececec;"></div>
<div class="a" style="left:944px;top:273px;width:1px;height:530px;background:#ececec;"></div>
<div class="a" style="left:1166px;top:273px;width:1px;height:530px;background:#ececec;"></div>
<div class="a" style="left:1387px;top:273px;width:1px;height:530px;background:#ececec;"></div>
<div class="a" style="left:1608px;top:273px;width:1px;height:530px;background:#ececec;"></div>
<div class="a" style="left:1830px;top:273px;width:1px;height:530px;background:#ececec;"></div>
<div class="a" style="left:2051px;top:273px;width:1px;height:530px;background:#ececec;"></div>
<div class="a" style="left:2272px;top:273px;width:1px;height:530px;background:#ececec;"></div>
<div class="a" style="left:2495px;top:323px;width:14px;height:480px;background:#fff;"></div>
<svg style="left:2496px;top:327px" width="11" height="7" viewBox="0 0 11 7"><path d="M0.5 6.5 L5.5 0.5 L10.5 6.5 Z" fill="#888"/></svg>
<div class="a" style="left:2497px;top:340px;width:9px;height:444px;background:#888;border-radius:4.5px;"></div>
<svg style="left:2496px;top:792px" width="11" height="7" viewBox="0 0 11 7"><path d="M0.5 0.5 L5.5 6.5 L10.5 0.5 Z" fill="#888"/></svg>
<div class="a" style="left:2180px;top:824px;width:45px;height:30px;background:#fff;border:1px solid #e4e4e4;"></div>
<div class="a" style="left:2180px;top:831px;font-size:13px;line-height:16px;color:#555;font-weight:normal;width:45px;text-align:center;">1</div>
<div class="a" style="left:2229px;top:831px;font-size:14px;line-height:17px;color:#555;font-weight:normal;">/</div>
<div class="a" style="left:2240px;top:831px;font-size:14px;line-height:17px;color:#555;font-weight:bold;">1</div>
<div class="a" style="left:2252px;top:831px;font-size:14px;line-height:17px;color:#555;font-weight:normal;">页</div>
<div class="a" style="left:2269px;top:831px;font-size:14px;line-height:17px;color:#555;font-weight:normal;">,</div>
<div class="a" style="left:2281px;top:831px;font-size:14px;line-height:17px;color:#555;font-weight:normal;">共</div>
<div class="a" style="left:2300px;top:831px;font-size:14px;line-height:17px;color:#555;font-weight:bold;">10</div>
<div class="a" style="left:2321px;top:831px;font-size:14px;line-height:17px;color:#555;font-weight:normal;">条数据</div>
<div class="a" style="left:2364px;top:831px;font-size:14px;line-height:17px;color:#555;font-weight:normal;">,</div>
<div class="a" style="left:2376px;top:831px;font-size:14px;line-height:17px;color:#555;font-weight:normal;">每页显示数量</div>
<div class="a" style="left:2466px;top:824px;width:44px;height:30px;background:#fff;border:1px solid #e4e4e4;"></div>
<div class="a" style="left:2466px;top:831px;font-size:13px;line-height:16px;color:#555;font-weight:normal;width:44px;text-align:center;">20</div>
<svg style="left:0;top:0;font-family:'Liberation Sans',sans-serif" width="2560" height="1271" viewBox="0 0 2560 1271"><circle cx="463.3" cy="242.3" r="140" fill="none" stroke="#e8000c" stroke-width="5"/><text x="0" y="0" transform="translate(360.60 272.33) rotate(253.70) scale(0.92 1)" text-anchor="middle" font-size="23" font-weight="bold" fill="#e8000c" stroke="#e8000c" stroke-width="0.6">w</text><text x="0" y="0" transform="translate(356.43 247.59) rotate(267.17) scale(0.92 1)" text-anchor="middle" font-size="23" font-weight="bold" fill="#e8000c" stroke="#e8000c" stroke-width="0.6">w</text><text x="0" y="0" transform="translate(358.14 222.56) rotate(280.63) scale(0.92 1)" text-anchor="middle" font-size="23" font-weight="bold" fill="#e8000c" stroke="#e8000c" stroke-width="0.6">w</text><text x="0" y="0" transform="translate(365.63 198.61) rotate(294.10) scale(0.92 1)" text-anchor="middle" font-size="23" font-weight="bold" fill="#e8000c" stroke="#e8000c" stroke-width="0.6">.</text><text x="0" y="0" transform="translate(378.49 177.06) rotate(307.57) scale(0.92 1)" text-anchor="middle" font-size="23" font-weight="bold" fill="#e8000c" stroke="#e8000c" stroke-width="0.6">h</text><text x="0" y="0" transform="translate(396.01 159.11) rotate(321.03) scale(0.92 1)" text-anchor="middle" font-size="23" font-weight="bold" fill="#e8000c" stroke="#e8000c" stroke-width="0.6">a</text><text x="0" y="0" transform="translate(417.24 145.72) rotate(334.50) scale(0.92 1)" text-anchor="middle" font-size="23" font-weight="bold" fill="#e8000c" stroke="#e8000c" stroke-width="0.6">i</text><text x="0" y="0" transform="translate(440.99 137.65) rotate(347.97) scale(0.92 1)" text-anchor="middle" font-size="23" font-weight="bold" fill="#e8000c" stroke="#e8000c" stroke-width="0.6">w</text><text x="0" y="0" transform="translate(465.98 135.33) rotate(361.43) scale(0.92 1)" text-anchor="middle" font-size="23" font-weight="bold" fill="#e8000c" stroke="#e8000c" stroke-width="0.6">a</text><text x="0" y="0" transform="translate(490.81 138.90) rotate(374.90) scale(0.92 1)" text-anchor="middle" font-size="23" font-weight="bold" fill="#e8000c" stroke="#e8000c" stroke-width="0.6">i</text><text x="0" y="0" transform="translate(514.14 148.15) rotate(388.37) scale(0.92 1)" text-anchor="middle" font-size="23" font-weight="bold" fill="#e8000c" stroke="#e8000c" stroke-width="0.6">y</text><text x="0" y="0" transform="translate(534.67 162.58) rotate(401.83) scale(0.92 1)" text-anchor="middle" font-size="23" font-weight="bold" fill="#e8000c" stroke="#e8000c" stroke-width="0.6">m</text><text x="0" y="0" transform="translate(551.27 181.39) rotate(415.30) scale(0.92 1)" text-anchor="middle" font-size="23" font-weight="bold" fill="#e8000c" stroke="#e8000c" stroke-width="0.6">.</text><text x="0" y="0" transform="translate(563.04 203.55) rotate(428.77) scale(0.92 1)" text-anchor="middle" font-size="23" font-weight="bold" fill="#e8000c" stroke="#e8000c" stroke-width="0.6">c</text><text x="0" y="0" transform="translate(569.32 227.84) rotate(442.23) scale(0.92 1)" text-anchor="middle" font-size="23" font-weight="bold" fill="#e8000c" stroke="#e8000c" stroke-width="0.6">o</text><text x="0" y="0" transform="translate(569.77 252.93) rotate(455.70) scale(0.92 1)" text-anchor="middle" font-size="23" font-weight="bold" fill="#e8000c" stroke="#e8000c" stroke-width="0.6">m</text><text x="0" y="0" transform="translate(384.70 345.85) rotate(37.20)" text-anchor="middle" font-size="14" font-weight="bold" fill="#e8000c">h</text><text x="0" y="0" transform="translate(397.27 354.28) rotate(30.53)" text-anchor="middle" font-size="14" font-weight="bold" fill="#e8000c">a</text><text x="0" y="0" transform="translate(410.73 361.19) rotate(23.85)" text-anchor="middle" font-size="14" font-weight="bold" fill="#e8000c">i</text><text x="0" y="0" transform="translate(424.90 366.50) rotate(17.18)" text-anchor="middle" font-size="14" font-weight="bold" fill="#e8000c">w</text><text x="0" y="0" transform="translate(439.59 370.12) rotate(10.51)" text-anchor="middle" font-size="14" font-weight="bold" fill="#e8000c">a</text><text x="0" y="0" transform="translate(454.60 372.01) rotate(3.84)" text-anchor="middle" font-size="14" font-weight="bold" fill="#e8000c">i</text><text x="0" y="0" transform="translate(469.73 372.14) rotate(-2.84)" text-anchor="middle" font-size="14" font-weight="bold" fill="#e8000c">y</text><text x="0" y="0" transform="translate(484.78 370.51) rotate(-9.51)" text-anchor="middle" font-size="14" font-weight="bold" fill="#e8000c">m</text><text x="0" y="0" transform="translate(499.53 367.15) rotate(-16.18)" text-anchor="middle" font-size="14" font-weight="bold" fill="#e8000c">.</text><text x="0" y="0" transform="translate(513.79 362.09) rotate(-22.85)" text-anchor="middle" font-size="14" font-weight="bold" fill="#e8000c">c</text><text x="0" y="0" transform="translate(527.37 355.42) rotate(-29.53)" text-anchor="middle" font-size="14" font-weight="bold" fill="#e8000c">o</text><text x="0" y="0" transform="translate(540.08 347.20) rotate(-36.20)" text-anchor="middle" font-size="14" font-weight="bold" fill="#e8000c">m</text><text x="404" y="256" text-anchor="middle" font-size="38" fill="#e8000c" stroke="#e8000c" stroke-width="0.6">海</text><text x="444" y="256" text-anchor="middle" font-size="38" fill="#e8000c" stroke="#e8000c" stroke-width="0.6">外</text><text x="484" y="256" text-anchor="middle" font-size="38" fill="#e8000c" stroke="#e8000c" stroke-width="0.6">源</text><text x="524" y="256" text-anchor="middle" font-size="38" fill="#e8000c" stroke="#e8000c" stroke-width="0.6">码</text><text x="0" y="0" transform="translate(369.20 322.3) scale(0.82 1)" text-anchor="middle" font-size="26.5" font-weight="bold" fill="#e8000c" stroke="#e8000c" stroke-width="0.7">h</text><text x="0" y="0" transform="translate(386.80 322.3) scale(0.82 1)" text-anchor="middle" font-size="26.5" font-weight="bold" fill="#e8000c" stroke="#e8000c" stroke-width="0.7">a</text><text x="0" y="0" transform="translate(404.40 322.3) scale(0.82 1)" text-anchor="middle" font-size="26.5" font-weight="bold" fill="#e8000c" stroke="#e8000c" stroke-width="0.7">i</text><text x="0" y="0" transform="translate(422.00 322.3) scale(0.82 1)" text-anchor="middle" font-size="26.5" font-weight="bold" fill="#e8000c" stroke="#e8000c" stroke-width="0.7">w</text><text x="0" y="0" transform="translate(438.80 322.3) scale(0.82 1)" text-anchor="middle" font-size="26.5" font-weight="bold" fill="#e8000c" stroke="#e8000c" stroke-width="0.7">a</text><text x="0" y="0" transform="translate(456.00 322.3) scale(0.82 1)" text-anchor="middle" font-size="26.5" font-weight="bold" fill="#e8000c" stroke="#e8000c" stroke-width="0.7">i</text><text x="0" y="0" transform="translate(472.70 322.3) scale(0.82 1)" text-anchor="middle" font-size="26.5" font-weight="bold" fill="#e8000c" stroke="#e8000c" stroke-width="0.7">y</text><text x="0" y="0" transform="translate(489.00 322.3) scale(0.82 1)" text-anchor="middle" font-size="26.5" font-weight="bold" fill="#e8000c" stroke="#e8000c" stroke-width="0.7">m</text><text x="0" y="0" transform="translate(503.70 322.3) scale(0.82 1)" text-anchor="middle" font-size="26.5" font-weight="bold" fill="#e8000c" stroke="#e8000c" stroke-width="0.7">.</text><text x="0" y="0" transform="translate(523.40 322.3) scale(0.82 1)" text-anchor="middle" font-size="26.5" font-weight="bold" fill="#e8000c" stroke="#e8000c" stroke-width="0.7">c</text><text x="0" y="0" transform="translate(540.60 322.3) scale(0.82 1)" text-anchor="middle" font-size="26.5" font-weight="bold" fill="#e8000c" stroke="#e8000c" stroke-width="0.7">o</text><text x="0" y="0" transform="translate(557.00 322.3) scale(0.82 1)" text-anchor="middle" font-size="26.5" font-weight="bold" fill="#e8000c" stroke="#e8000c" stroke-width="0.7">m</text></svg>
</body></html>
